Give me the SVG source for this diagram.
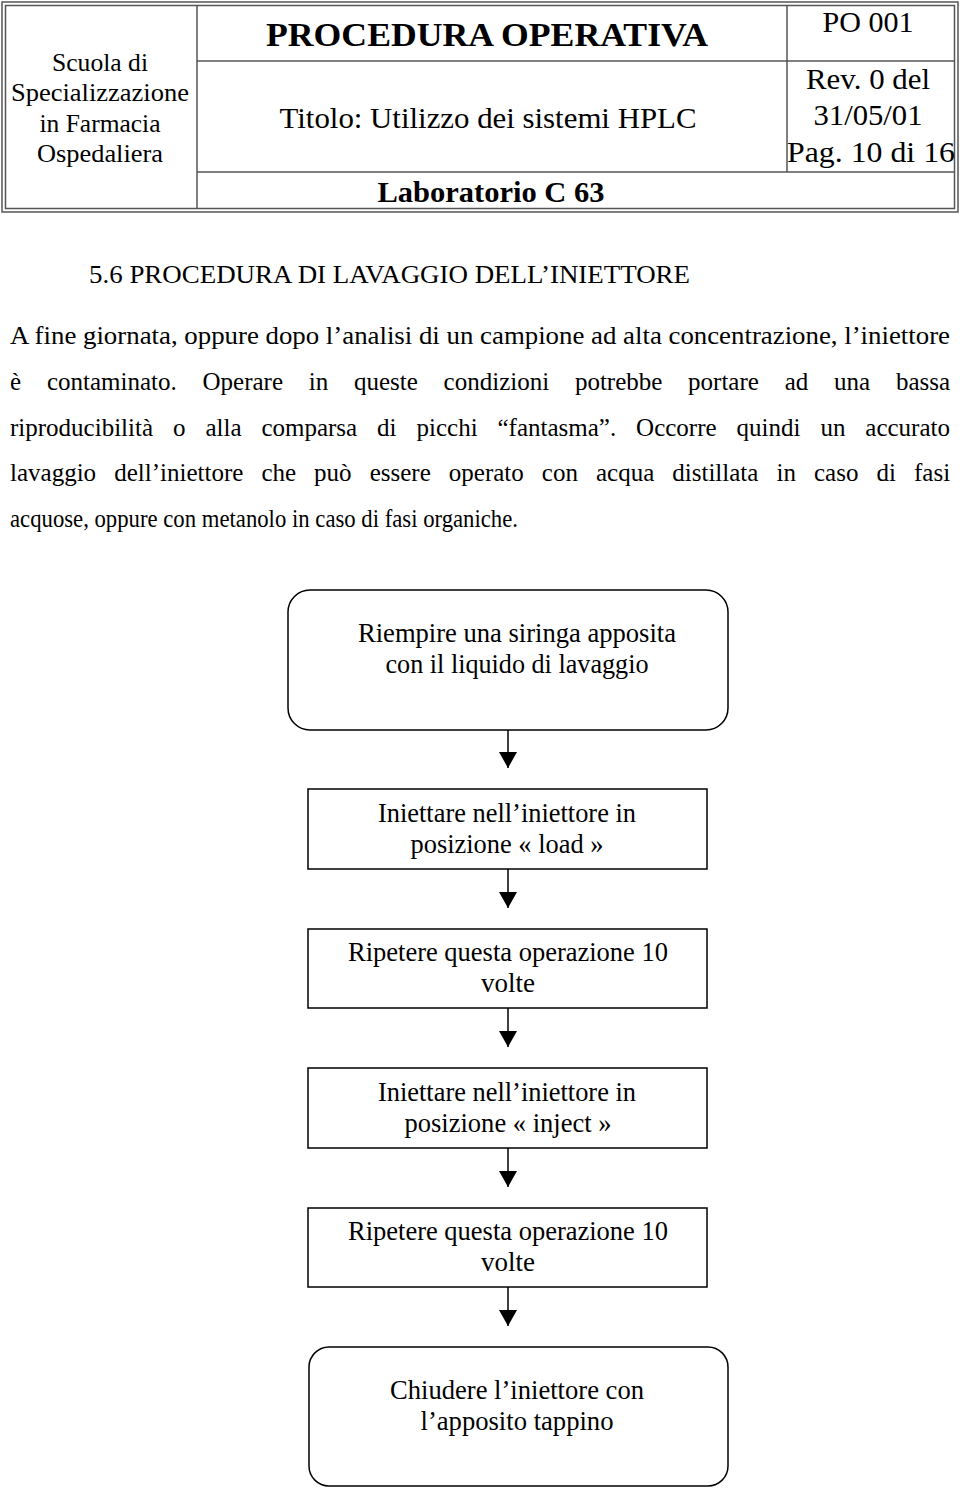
<svg xmlns="http://www.w3.org/2000/svg" width="960" height="1491" viewBox="0 0 960 1491" font-family="'Liberation Serif', 'Times New Roman', Tinos, Times, serif">
<style>
text{font-family:'Liberation Serif','Times New Roman',Tinos,Times,serif;fill:#000}
.h{font-size:26px;text-anchor:middle}
.r{font-size:30px;text-anchor:middle}
.hb{font-weight:bold;text-anchor:middle}
.p{font-size:25px}
.n{font-size:26.5px;text-anchor:middle}
.box{fill:#fff;stroke:#000;stroke-width:1.5}
.tl{stroke:#555;stroke-width:1.5;fill:none}
.con{stroke:#000;stroke-width:1.5;fill:none}
</style>
<defs>
<marker id="ah" viewBox="0 0 16 18" refX="16" refY="9" markerWidth="16" markerHeight="18" markerUnits="userSpaceOnUse" orient="auto">
<path d="M0,0 L16,9 L0,18 Z" fill="#000"/>
</marker>
</defs>
<rect width="960" height="1491" fill="#fff"/>
<g id="header">
<rect x="2" y="2" width="956" height="210" class="tl"/>
<rect x="5.5" y="5.5" width="949" height="203" class="tl" stroke-width="1"/>
<line x1="197" y1="5" x2="197" y2="209" class="tl"/>
<line x1="197" y1="61" x2="955" y2="61" class="tl"/>
<line x1="197" y1="172" x2="955" y2="172" class="tl"/>
<line x1="787" y1="5" x2="787" y2="172" class="tl"/>
<text class="h" x="100" y="71" textLength="96" lengthAdjust="spacingAndGlyphs">Scuola di</text>
<text class="h" x="100" y="101" textLength="178" lengthAdjust="spacingAndGlyphs">Specializzazione</text>
<text class="h" x="100" y="132" textLength="121" lengthAdjust="spacingAndGlyphs">in Farmacia</text>
<text class="h" x="100" y="162" textLength="126" lengthAdjust="spacingAndGlyphs">Ospedaliera</text>
<text class="hb" x="487" y="46" font-size="34" textLength="442" lengthAdjust="spacingAndGlyphs">PROCEDURA OPERATIVA</text>
<text class="r" x="488" y="128" textLength="417" lengthAdjust="spacingAndGlyphs">Titolo: Utilizzo dei sistemi HPLC</text>
<text class="hb" x="491" y="202" font-size="30" textLength="227" lengthAdjust="spacingAndGlyphs">Laboratorio C 63</text>
<text class="r" x="868" y="32" textLength="91" lengthAdjust="spacingAndGlyphs">PO 001</text>
<text class="r" x="868" y="89" textLength="124" lengthAdjust="spacingAndGlyphs">Rev. 0 del</text>
<text class="r" x="868" y="125" textLength="109" lengthAdjust="spacingAndGlyphs">31/05/01</text>
<text class="r" x="871" y="162" textLength="168" lengthAdjust="spacingAndGlyphs">Pag. 10 di 16</text>
</g>
<g id="body">
<text class="p" x="89" y="283" font-size="26.5" textLength="601" lengthAdjust="spacingAndGlyphs">5.6 PROCEDURA DI LAVAGGIO DELL’INIETTORE</text>
<text class="p" x="10" y="344" font-size="26" textLength="940" lengthAdjust="spacingAndGlyphs">A fine giornata, oppure dopo l’analisi di un campione ad alta concentrazione, l’iniettore</text>
<text class="p" y="390"><tspan x="10">è</tspan> <tspan x="46.9">contaminato.</tspan> <tspan x="202.5">Operare</tspan> <tspan x="308.7">in</tspan> <tspan x="353.9">queste</tspan> <tspan x="443.6">condizioni</tspan> <tspan x="574.9">potrebbe</tspan> <tspan x="688.1">portare</tspan> <tspan x="784.7">ad</tspan> <tspan x="834">una</tspan> <tspan x="895.9">bassa</tspan></text>
<text class="p" y="436"><tspan x="10">riproducibilità</tspan> <tspan x="173">o</tspan> <tspan x="205.4">alla</tspan> <tspan x="261.4">comparsa</tspan> <tspan x="377.1">di</tspan> <tspan x="416.5">picchi</tspan> <tspan x="497.5">“fantasma”.</tspan> <tspan x="636.1">Occorre</tspan> <tspan x="736.6">quindi</tspan> <tspan x="820.4">un</tspan> <tspan x="865.3">accurato</tspan></text>
<text class="p" y="481"><tspan x="10">lavaggio</tspan> <tspan x="114.2">dell’iniettore</tspan> <tspan x="261.4">che</tspan> <tspan x="314.1">può</tspan> <tspan x="369.7">essere</tspan> <tspan x="448.8">operato</tspan> <tspan x="541.8">con</tspan> <tspan x="596">acqua</tspan> <tspan x="672.3">distillata</tspan> <tspan x="776.5">in</tspan> <tspan x="814">caso</tspan> <tspan x="876.5">di</tspan> <tspan x="914">fasi</tspan></text>
<text class="p" x="10" y="527" textLength="508" lengthAdjust="spacingAndGlyphs">acquose, oppure con metanolo in caso di fasi organiche.</text>
</g>
<g id="connectors">
<line class="con" x1="508" y1="730" x2="508" y2="768" marker-end="url(#ah)"/>
<line class="con" x1="508" y1="869" x2="508" y2="908" marker-end="url(#ah)"/>
<line class="con" x1="508" y1="1008" x2="508" y2="1047" marker-end="url(#ah)"/>
<line class="con" x1="508" y1="1148" x2="508" y2="1187" marker-end="url(#ah)"/>
<line class="con" x1="508" y1="1287" x2="508" y2="1326" marker-end="url(#ah)"/>
</g>
<g id="n1">
<rect class="box" x="288" y="590" width="440" height="140" rx="22"/>
<text class="n" x="517" y="642" textLength="318" lengthAdjust="spacingAndGlyphs">Riempire una siringa apposita</text>
<text class="n" x="517" y="673" textLength="263" lengthAdjust="spacingAndGlyphs">con il liquido di lavaggio</text>
</g>
<g id="n2">
<rect class="box" x="308" y="789" width="399" height="80"/>
<text class="n" x="507" y="822" textLength="258" lengthAdjust="spacingAndGlyphs">Iniettare nell’iniettore in</text>
<text class="n" x="507" y="853" textLength="193" lengthAdjust="spacingAndGlyphs">posizione « load »</text>
</g>
<g id="n3">
<rect class="box" x="308" y="929" width="399" height="79"/>
<text class="n" x="508" y="961" textLength="320" lengthAdjust="spacingAndGlyphs">Ripetere questa operazione 10</text>
<text class="n" x="508" y="992" textLength="54" lengthAdjust="spacingAndGlyphs">volte</text>
</g>
<g id="n4">
<rect class="box" x="308" y="1068" width="399" height="80"/>
<text class="n" x="507" y="1101" textLength="258" lengthAdjust="spacingAndGlyphs">Iniettare nell’iniettore in</text>
<text class="n" x="508" y="1132" textLength="207" lengthAdjust="spacingAndGlyphs">posizione « inject »</text>
</g>
<g id="n5">
<rect class="box" x="308" y="1208" width="399" height="79"/>
<text class="n" x="508" y="1240" textLength="320" lengthAdjust="spacingAndGlyphs">Ripetere questa operazione 10</text>
<text class="n" x="508" y="1271" textLength="54" lengthAdjust="spacingAndGlyphs">volte</text>
</g>
<g id="n6">
<rect class="box" x="309" y="1347" width="419" height="139" rx="20"/>
<text class="n" x="517" y="1399" textLength="254" lengthAdjust="spacingAndGlyphs">Chiudere l’iniettore con</text>
<text class="n" x="517" y="1430" textLength="193" lengthAdjust="spacingAndGlyphs">l’apposito tappino</text>
</g>
</svg>
